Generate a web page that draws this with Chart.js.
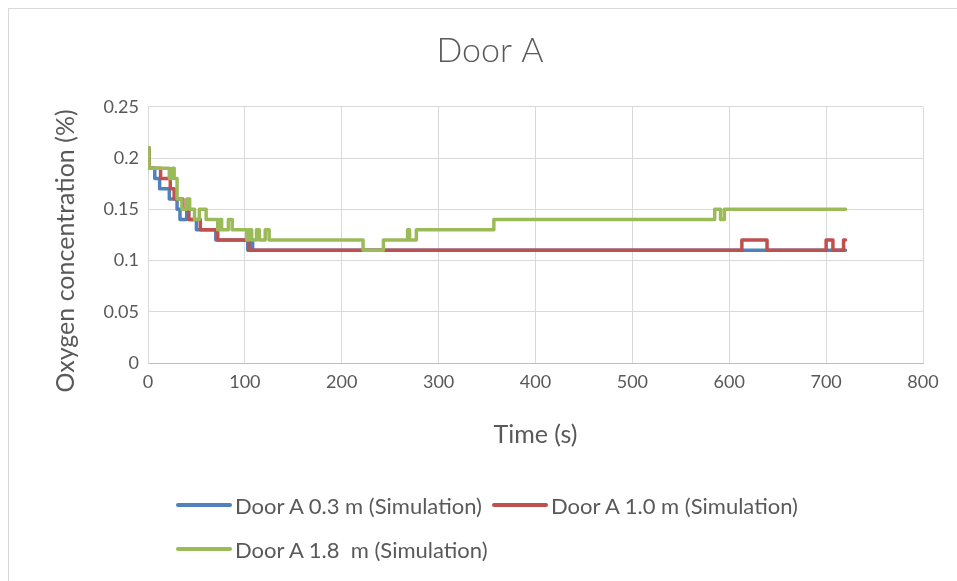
<!DOCTYPE html>
<html>
<head>
<meta charset="utf-8">
<script src="https://cdn.jsdelivr.net/npm/chart.js@4/dist/chart.umd.min.js"></script>
<style>
  body { margin: 0; background: #fff; overflow: hidden; }
  #wrap { position: relative; width: 957px; height: 581px; }
  #legend { position: absolute; left: 0; top: 0; font-family: Lato, sans-serif; font-size: 22px; color: #595959; }
  .item { position: absolute; display: flex; align-items: center; white-space: pre; height: 26px; }
  .swatch { width: 56px; height: 4px; border-radius: 2px; margin-right: 3px; }
</style>
</head>
<body>
<div id="wrap">
  <canvas id="chart" width="957" height="581"></canvas>
  <div id="legend"></div>
</div>
<script>
// series labels / colours
const seriesLabels = ['Door A 0.3 m (Simulation)', 'Door A 1.0 m (Simulation)', 'Door A 1.8  m (Simulation)']
const seriesColors = ['#4F81BD', '#C0504D', '#9BBB59']

// time (s) where each step starts, and oxygen concentration from there on
const timesLow = [0, 1, 7, 12, 22, 30, 33, 40, 42, 50, 70, 103, 105, 108, 720]
const valuesLow = [0.21, 0.19, 0.18, 0.17, 0.16, 0.15, 0.14, 0.15, 0.14, 0.13, 0.12, 0.11, 0.12, 0.11, 0.11]

const timesMid = [0, 1, 13, 23, 27, 36, 42, 54, 72, 104, 613, 639, 700, 707, 718, 720]
const valuesMid = [0.21, 0.19, 0.18, 0.17, 0.16, 0.15, 0.14, 0.13, 0.12, 0.11, 0.12, 0.11, 0.12, 0.11, 0.12, 0.12]

const timesHigh = [0, 1, 22, 25, 27, 30, 35, 40, 43, 48, 53, 60, 72, 74, 76, 83, 87, 102, 104, 107, 112, 115, 121, 125, 222, 243, 268, 270, 277, 357, 585, 591, 595, 720]
const valuesHigh = [0.21, 0.19, 0.18, 0.19, 0.18, 0.16, 0.15, 0.16, 0.15, 0.14, 0.15, 0.14, 0.13, 0.14, 0.13, 0.14, 0.13, 0.12, 0.13, 0.12, 0.13, 0.12, 0.13, 0.12, 0.11, 0.12, 0.13, 0.12, 0.13, 0.14, 0.15, 0.14, 0.15, 0.15]

const xTicks = [0, 100, 200, 300, 400, 500, 600, 700, 800]
const yTicks = [0, 0.05, 0.1, 0.15, 0.2, 0.25]

const textColor = '#595959'
const gridColor = '#d9d9d9'
const fontFamily = 'Lato, sans-serif'

const toPoints = (times, values) => times.map((t, i) => ({ x: t, y: values[i] }))

const seriesData = [
  toPoints(timesLow, valuesLow),
  toPoints(timesMid, valuesMid),
  toPoints(timesHigh, valuesHigh),
]

// Excel draws later series on top, Chart.js draws lower "order" on top
const datasets = seriesData.map((data, i) => ({
  label: seriesLabels[i],
  data,
  borderColor: seriesColors[i],
  backgroundColor: seriesColors[i],
  borderWidth: 3.5,
  borderCapStyle: 'round',
  borderJoinStyle: 'round',
  stepped: 'before',
  pointRadius: 0,
  fill: false,
  order: seriesData.length - i,
}))

// thin outer frame like the Excel chart border, title centred like the reference,
// and the y title pushed down a little as in the original
const framePlugin = {
  id: 'frame',
  afterLayout(chart) {
    if (chart.titleBlock) chart.titleBlock.left = 57
    const y = chart.scales.y
    if (y && !y._shifted) {
      const orig = y.drawTitle.bind(y)
      y.drawTitle = function () {
        this.ctx.save()
        this.ctx.translate(0, 16)
        orig()
        this.ctx.restore()
      }
      y._shifted = true
    }
  },
  beforeDraw(chart) {
    const ctx = chart.ctx
    ctx.save()
    ctx.strokeStyle = gridColor
    ctx.lineWidth = 1
    ctx.strokeRect(8.5, 8.5, 1200, 1200)
    ctx.restore()
  },
}

const ctx = document.getElementById('chart').getContext('2d')
new Chart(ctx, {
  type: 'line',
  data: { datasets },
  plugins: [framePlugin],
  options: {
    responsive: false,
    animation: false,
    layout: { padding: { left: 8, right: 34, top: 8, bottom: 118 } },
    plugins: {
      legend: { display: false },
      tooltip: { enabled: false },
      title: {
        display: true,
        text: 'Door A',
        color: textColor,
        font: { family: fontFamily, size: 34, weight: '300' },
        padding: { top: 23, bottom: 35 },
      },
    },
    scales: {
      x: {
        type: 'linear',
        min: 0,
        max: 800,
        afterBuildTicks: scale => { scale.ticks = xTicks.map(v => ({ value: v })) },
        afterFit: scale => { scale.height = 100 },
        grid: { color: gridColor, lineWidth: 1, drawTicks: false },
        border: { color: '#bfbfbf', width: 1 },
        ticks: { color: textColor, font: { family: fontFamily, size: 18 }, padding: 8, maxRotation: 0 },
        title: {
          display: true,
          text: 'Time (s)',
          color: textColor,
          font: { family: fontFamily, size: 25 },
          padding: { top: 0, bottom: 13 },
        },
      },
      y: {
        min: 0,
        max: 0.25,
        afterBuildTicks: scale => { scale.ticks = yTicks.map(v => ({ value: v })) },
        afterFit: scale => { scale.width = 140 },
        grid: { color: gridColor, lineWidth: 1, drawTicks: false },
        border: { color: gridColor, width: 1 },
        ticks: {
          color: textColor,
          font: { family: fontFamily, size: 18 },
          padding: 9,
          callback: v => String(+v.toFixed(2)),
        },
        title: {
          display: true,
          text: 'Oxygen concentration (%)',
          color: textColor,
          font: { family: fontFamily, size: 25 },
          padding: { top: 43, bottom: 0 },
        },
      },
    },
  },
})

// legend laid out like the reference: two items on the first row, one on the second
const legendPos = [
  { left: 176, top: 492 },
  { left: 492, top: 492 },
  { left: 176, top: 536 },
]
const legendEl = document.getElementById('legend')
seriesLabels.forEach((label, i) => {
  const item = document.createElement('div')
  item.className = 'item'
  item.style.left = legendPos[i].left + 'px'
  item.style.top = legendPos[i].top + 'px'
  const sw = document.createElement('span')
  sw.className = 'swatch'
  sw.style.background = seriesColors[i]
  const txt = document.createElement('span')
  txt.textContent = label
  item.appendChild(sw)
  item.appendChild(txt)
  legendEl.appendChild(item)
})
</script>
</body>
</html>
